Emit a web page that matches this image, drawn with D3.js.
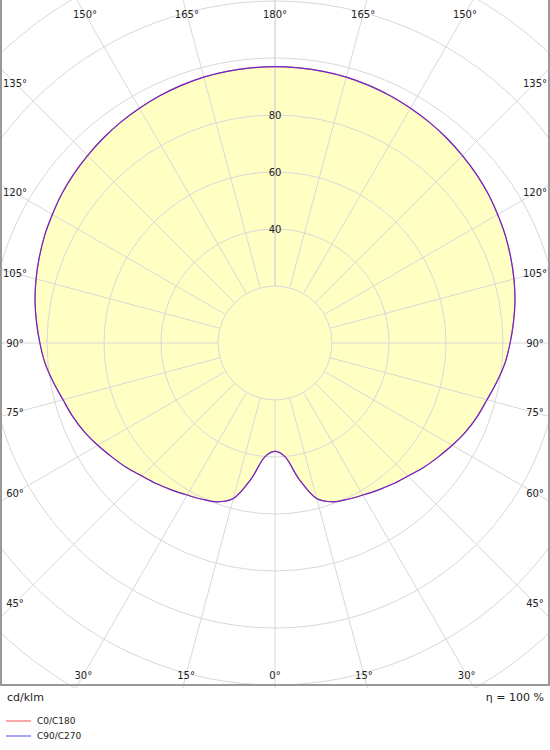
<!DOCTYPE html>
<html><head><meta charset="utf-8">
<script src="https://cdn.jsdelivr.net/npm/d3@7"></script>
<style>body{margin:0;background:#fff}text{font-family:"DejaVu Sans",sans-serif;font-size:10px;fill:#222}</style>
</head><body>
<svg id="c" width="550" height="750"></svg>
<script>
// luminous intensity (cd/klm) vs gamma angle, symmetric about 0/180
var gammaAngles = [0,5,10,15,20,25,30,35,40,45,50,55,60,65,70,75,80,85,90,95,100,105,110,115,120,125,130,135,140,145,150,155,160,165,170,175,180];
var c0c180 = [38,40,48.5,56.5,59.3,60.5,61.6,63,64.5,66,68,69.8,71.8,73.8,75.5,77,79,81,82.5,84,85.5,86.8,88,89.2,90.2,91.3,92.2,93,93.8,94.5,95.1,95.7,96.2,96.6,96.8,96.9,97];
var c90c270 = c0c180.slice();
var ringValues = [20,40,60,80,100,120,140,160,180,200,220];
var ringLabels = [40,60,80];
var spokeAngles = d3.range(-180, 181, 15);

var cx = 275, cy = 343, W = 550, H = 688;
var r = d3.scaleLinear().domain([0, 20]).range([0, 57]);
var svg = d3.select('#c');
svg.append('clipPath').attr('id','clip').append('rect').attr('x',0).attr('y',0).attr('width',W).attr('height',H);
var g = svg.append('g').attr('clip-path','url(#clip)');

// angle 0 points down, positive to the right
var pt = function(a, v) {
  var t = a * Math.PI / 180;
  return [cx + Math.sin(t) * r(v), cy + Math.cos(t) * r(v)];
};

var full = function(vals) {
  var pts = gammaAngles.map((a, i) => pt(a, vals[i]));
  for (var i = gammaAngles.length - 2; i > 0; i--) pts.push(pt(-gammaAngles[i], vals[i]));
  return pts;
};
var line = d3.line().curve(d3.curveCatmullRomClosed);

g.append('path').attr('d', line(full(c0c180))).attr('fill', '#ffffc4').attr('stroke', 'none');

g.selectAll('circle.ring').data(ringValues).enter().append('circle')
  .attr('cx', cx).attr('cy', cy).attr('r', d => r(d))
  .attr('fill', 'none').attr('stroke', '#d8d8d8').attr('stroke-width', 1);

g.selectAll('line.spoke').data(spokeAngles).enter().append('line')
  .attr('x1', d => pt(d, 20)[0]).attr('y1', d => pt(d, 20)[1])
  .attr('x2', d => pt(d, 250)[0]).attr('y2', d => pt(d, 250)[1])
  .attr('stroke', '#d8d8d8').attr('stroke-width', 1);

g.append('path').attr('d', line(full(c0c180))).attr('fill', 'none').attr('stroke', '#ff6060').attr('stroke-width', 1.2);
g.append('path').attr('d', line(full(c90c270))).attr('fill', 'none').attr('stroke', '#4a20e0').attr('stroke-width', 1.2).attr('opacity', 0.85);

svg.selectAll('text.rl').data(ringLabels).enter().append('text')
  .attr('x', cx).attr('y', d => cy - r(d)).attr('text-anchor', 'middle').attr('dy', '0.35em').text(d => d);

// angle labels where spokes meet an inset frame
var L = 15, R = 535, T = 14, B = 675;
spokeAngles.filter(a => a !== -180).forEach(function(a) {
  var t = a * Math.PI / 180, dx = Math.sin(t), dy = Math.cos(t), s = Infinity;
  if (dx > 1e-9) s = Math.min(s, (R - cx) / dx);
  if (dx < -1e-9) s = Math.min(s, (L - cx) / dx);
  if (dy > 1e-9) s = Math.min(s, (B - cy) / dy);
  if (dy < -1e-9) s = Math.min(s, (T - cy) / dy);
  svg.append('text').attr('x', cx + dx * s).attr('y', cy + dy * s)
    .attr('text-anchor', 'middle').attr('dy', '0.35em').text(Math.abs(a) + '°');
});

svg.append('rect').attr('x', 1).attr('y', -2).attr('width', W - 2).attr('height', H - 1)
  .attr('fill', 'none').attr('stroke', '#999').attr('stroke-width', 2);

svg.append('text').attr('x', 7).attr('y', 701).style('font-size', '11px').text('cd/klm');
svg.append('text').attr('x', 544).attr('y', 701).attr('text-anchor', 'end').style('font-size', '11px').text('η = 100 %');

var legend = [['C0/C180', '#ff8888'], ['C90/C270', '#8888ff']];
legend.forEach(function(d, i) {
  svg.append('line').attr('x1', 6).attr('x2', 31).attr('y1', 721 + i * 15).attr('y2', 721 + i * 15)
    .attr('stroke', d[1]).attr('stroke-width', 1.5);
  svg.append('text').attr('x', 37).attr('y', 724 + i * 15).style('font-size', '9px').text(d[0]);
});
</script>
</body></html>
